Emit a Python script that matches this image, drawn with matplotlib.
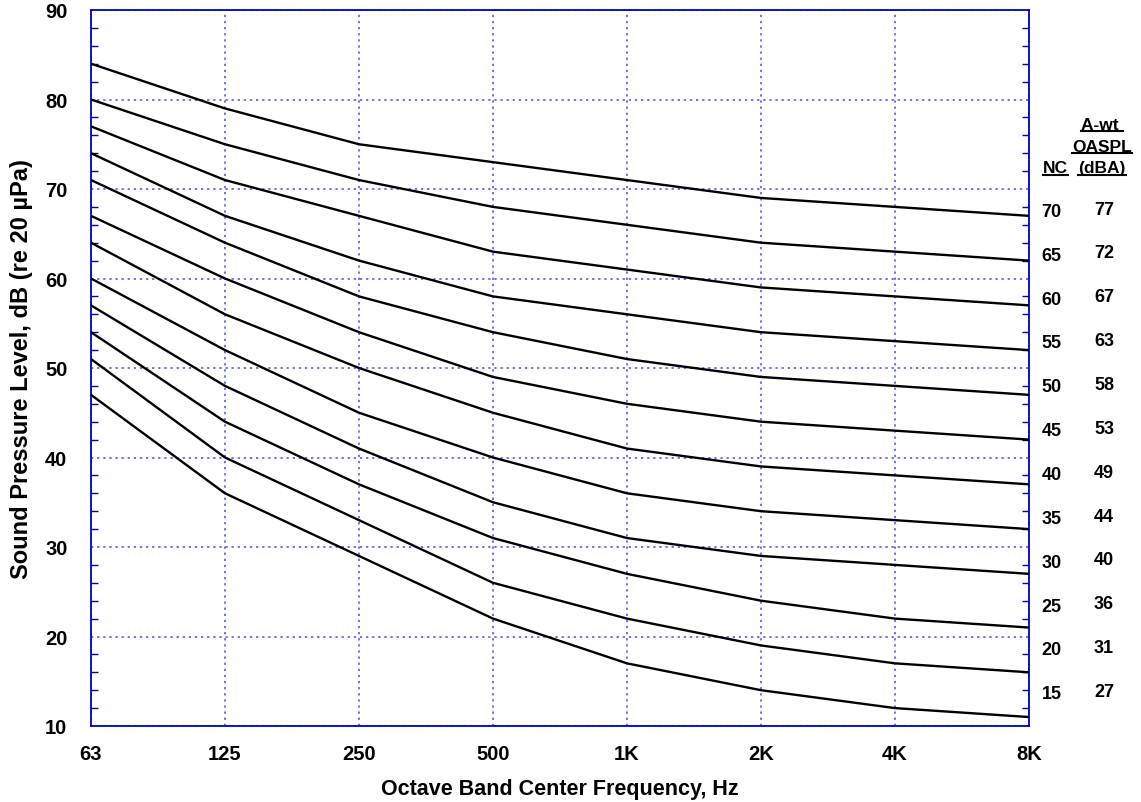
import matplotlib
matplotlib.use("Agg")
import matplotlib.pyplot as plt
from matplotlib.ticker import MultipleLocator
from matplotlib.lines import Line2D

plt.rcParams['font.family'] = ['Liberation Sans', 'DejaVu Sans']
plt.rcParams['font.weight'] = 'bold'

freqs = ["63", "125", "250", "500", "1K", "2K", "4K", "8K"]
nc_levels = [70, 65, 60, 55, 50, 45, 40, 35, 30, 25, 20, 15]
dba_levels = [77, 72, 67, 63, 58, 53, 49, 44, 40, 36, 31, 27]

nc70 = [84, 79, 75, 73, 71, 69, 68, 67]
nc65 = [80, 75, 71, 68, 66, 64, 63, 62]
nc60 = [77, 71, 67, 63, 61, 59, 58, 57]
nc55 = [74, 67, 62, 58, 56, 54, 53, 52]
nc50 = [71, 64, 58, 54, 51, 49, 48, 47]
nc45 = [67, 60, 54, 49, 46, 44, 43, 42]
nc40 = [64, 56, 50, 45, 41, 39, 38, 37]
nc35 = [60, 52, 45, 40, 36, 34, 33, 32]
nc30 = [57, 48, 41, 35, 31, 29, 28, 27]
nc25 = [54, 44, 37, 31, 27, 24, 22, 21]
nc20 = [51, 40, 33, 26, 22, 19, 17, 16]
nc15 = [47, 36, 29, 22, 17, 14, 12, 11]
curves = [nc70, nc65, nc60, nc55, nc50, nc45, nc40, nc35, nc30, nc25, nc20, nc15]

blue = '#0000CC'
gridblue = '#4B4BE6'

fig = plt.figure(figsize=(11.41, 8.03), dpi=100)
ax = fig.add_axes([91/1141, 1-727/803, (1029-91)/1141, (727-11)/803])

x = list(range(len(freqs)))
for c in curves:
    ax.plot(x, c, color='black', lw=1.7, solid_joinstyle='round', zorder=3)

ax.set_xlim(0, 7)
ax.set_ylim(10, 90)
ax.set_xticks(x)
ax.set_xticklabels(freqs)
ax.yaxis.set_major_locator(MultipleLocator(10))
ax.yaxis.set_minor_locator(MultipleLocator(2))
ax.grid(True, which='major', color=gridblue, linestyle=(0, (1.5, 2.5)), lw=1.1, zorder=1)

for s in ax.spines.values():
    s.set_color(blue)
    s.set_linewidth(1.3)

ax.tick_params(axis='y', which='both', direction='in', left=True, right=True,
               color=blue, labelsize=14.5, pad=17)
ax.tick_params(axis='y', which='major', length=0)
ax.tick_params(axis='y', which='minor', length=5, width=1)
ax.tick_params(axis='x', which='both', length=0, labelsize=14.5, pad=13)
for lab in ax.get_xticklabels() + ax.get_yticklabels():
    lab.set_fontweight('bold')

ax.set_xlabel("Octave Band Center Frequency, Hz", fontsize=15.5, fontweight='bold', labelpad=11)
ax.set_ylabel("Sound Pressure Level, dB (re 20 \u00b5Pa)", fontsize=17, fontweight='bold', labelpad=9)

# right-side labels
for nc, dba in zip(nc_levels, dba_levels):
    yv = 13.6 + (nc - 15) * 0.98
    ax.text(7.17, yv, str(nc), ha='center', va='center', fontsize=13, fontweight='bold',
            transform=ax.transData, clip_on=False)
    ax.text(7.56, yv + 0.25, str(dba), ha='center', va='center', fontsize=13, fontweight='bold',
            transform=ax.transData, clip_on=False)

hdr = []
hdr.append(fig.text(1055/1141, 1-169/803, "NC", ha='center', va='center', fontsize=12.5, fontweight='bold'))
hdr.append(fig.text(1102/1141, 1-125/803, "A-wt ", ha='center', va='center', fontsize=12.5, fontweight='bold'))
hdr.append(fig.text(1102/1141, 1-147/803, "OASPL", ha='center', va='center', fontsize=12.5, fontweight='bold'))
hdr.append(fig.text(1102/1141, 1-169/803, "(dBA)", ha='center', va='center', fontsize=12.5, fontweight='bold'))

fig.canvas.draw()
r = fig.canvas.get_renderer()
for t in hdr:
    bb = t.get_window_extent(r)
    yline = bb.y0 + 1
    fig.add_artist(Line2D([bb.x0 / 1141, bb.x1 / 1141], [yline / 803, yline / 803],
                          color='black', lw=1.5, transform=fig.transFigure))

fig.savefig("out.png", dpi=100)
